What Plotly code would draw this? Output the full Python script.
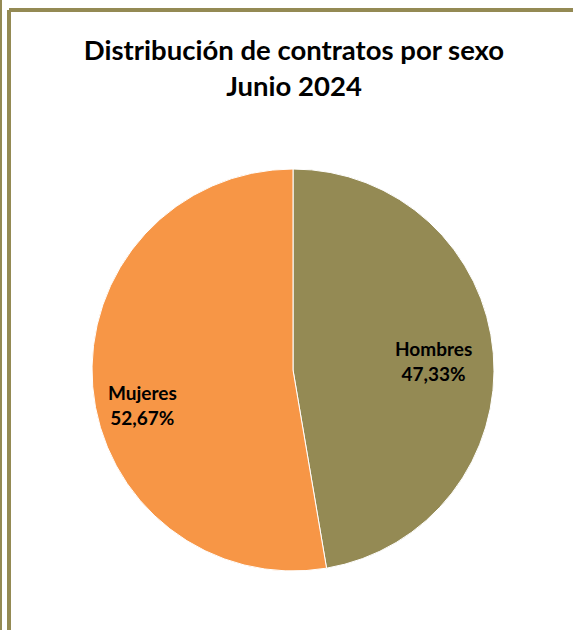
import math
import plotly.graph_objects as go

# Contract distribution by sex, June 2024
labels = ["Hombres", "Mujeres"]
shares = [47.33, 52.67]
colors = ["#948A54", "#F79646"]

W, H = 573, 630
FRAME = "#948A54"
FONT = "Lato, 'Open Sans', sans-serif"

# pie geometry in pixels
CX, CY, R = 293, 370, 201
LABEL_R = 0.75          # label distance from centre, as a fraction of the radius
LABEL_SHIFT = {"Hombres": (-10, 4), "Mujeres": (0, 22)}   # (right, down) in px


def px_x(v):
    return v / W


def px_y(v):
    return 1 - v / H


fig = go.Figure(
    go.Pie(
        labels=labels,
        values=shares,
        textinfo="none",
        sort=False,
        direction="clockwise",
        rotation=0,
        marker=dict(colors=colors, line=dict(color="white", width=1)),
        domain=dict(x=[px_x(CX - R), px_x(CX + R)], y=[px_y(CY + R), px_y(CY - R)]),
        showlegend=False,
        hoverinfo="label+percent",
    )
)

# data labels at each slice's mid angle (clockwise from 12 o'clock)
annotations = []
total = sum(shares)
start = 0.0
for lab, val in zip(labels, shares):
    mid = (start + val / 2) / total * 2 * math.pi
    start += val
    x = CX + LABEL_R * R * math.sin(mid)
    y = CY - LABEL_R * R * math.cos(mid)
    dx, dy = LABEL_SHIFT[lab]
    annotations.append(dict(
        x=px_x(x), y=px_y(y), xref="paper", yref="paper",
        text=f"<b>{lab}<br>{val:.2f}%</b>".replace(".", ","),
        showarrow=False, xanchor="center", yanchor="middle",
        xshift=dx, yshift=-dy,
        font=dict(family=FONT, size=19, color="black"),
    ))

shapes = [
    # thin rule at the far left edge
    dict(type="rect", xref="paper", yref="paper", x0=px_x(0), x1=px_x(2), y0=0, y1=1,
         fillcolor=FRAME, line=dict(width=0), layer="above"),
    # chart frame: left and top edges
    dict(type="rect", xref="paper", yref="paper", x0=px_x(7), x1=px_x(11), y0=0, y1=px_y(10),
         fillcolor=FRAME, line=dict(width=0), layer="above"),
    dict(type="rect", xref="paper", yref="paper", x0=px_x(9), x1=1, y0=px_y(12), y1=px_y(8),
         fillcolor=FRAME, line=dict(width=0), layer="above"),
]

fig.update_layout(
    width=W,
    height=H,
    margin=dict(l=0, r=0, t=0, b=0),
    paper_bgcolor="white",
    plot_bgcolor="white",
    shapes=shapes,
    annotations=annotations,
    title=dict(
        text="<b>Distribución de contratos por sexo<br>Junio 2024</b>",
        x=px_x(294),
        xanchor="center",
        y=px_y(60),
        yanchor="middle",
        font=dict(family=FONT, size=27.5, color="black"),
    ),
)

fig.write_html("out.html")
